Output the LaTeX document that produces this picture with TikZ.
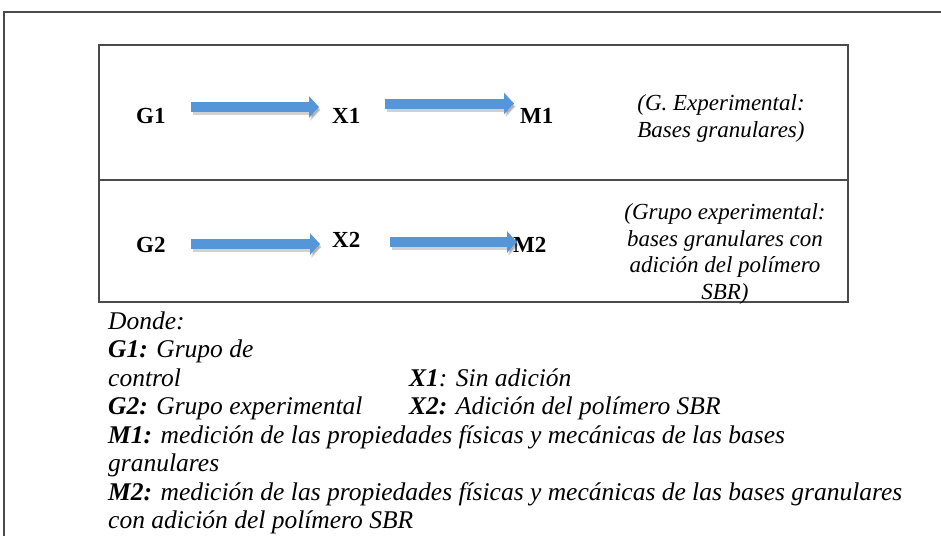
\documentclass[tikz,border=0pt]{standalone}
\usepackage{fontspec}
\setmainfont{Liberation Serif}[
  BoldFont={Liberation Serif Bold},
  ItalicFont={Liberation Serif Italic},
  BoldItalicFont={Liberation Serif Bold Italic}]
\usetikzlibrary{arrows.meta}
\definecolor{arrowblue}{HTML}{5596D9}
\definecolor{framegray}{HTML}{4A4A4A}
\tikzset{
  frameline/.style={draw=framegray, line width=1.3pt},
  lbl/.style={font=\fontsize{23}{27}\selectfont\bfseries, inner sep=0pt, anchor=base west},
  note/.style={font=\fontsize{23}{26.5}\selectfont\itshape, align=center, inner sep=0pt},
  legend/.style={font=\fontsize{25.5}{28}\selectfont\itshape, inner sep=0pt, anchor=base west},
  barrow/.style={draw=arrowblue, line width=10pt, line cap=butt, -{Triangle[length=10pt,width=21pt]}},
  bshadow/.style={draw=black, opacity=0.18, line width=10pt, line cap=butt, -{Triangle[length=10pt,width=21pt]}},
}
\begin{document}
\begin{tikzpicture}[x=1pt,y=-1pt]
\useasboundingbox (0,0) rectangle (941,535);
\fill[white] (0,0) rectangle (941,535);
% outer frame (open at right and bottom)
\draw[frameline] (4,540) -- (4,12) -- (945,12);
% inner box
\draw[frameline] (99,45) rectangle (848,302);
\draw[frameline] (99,180) -- (848,180);
% labels
\node[lbl] (G1) at (136,123) {G1};
\node[lbl] (X1) at (332,123) {X1};
\node[lbl] (M1) at (520,123) {M1};
\node[lbl] (G2) at (136,252) {G2};
\node[lbl] (X2) at (332,247) {X2};
\node[lbl] (M2) at (513,252) {M2};
% arrow ends
\coordinate (a1s) at (191,107); \coordinate (a1e) at (319,107);
\coordinate (a2s) at (385,103.5); \coordinate (a2e) at (514,103.5);
\coordinate (a3s) at (191,244); \coordinate (a3e) at (320,244);
\coordinate (a4s) at (390,242); \coordinate (a4e) at (517,242);
\foreach \s/\e in {a1s/a1e,a2s/a2e,a3s/a3e,a4s/a4e}{
  \draw[bshadow] ([shift={(1.5,3)}]\s) -- ([shift={(1.5,3)}]\e);
  \draw[barrow] (\s) -- (\e);
}
% notes
\node[note, font=\fontsize{23}{27}\selectfont\itshape] (n1) at (721,118) {(G. Experimental:\\Bases granulares)};
\node[note] (n2) at (725,254) {(Grupo experimental:\\bases granulares con\\adición del polímero\\SBR)};
% legend
\node[legend] (d0) at (108,329) {Donde:};
\node[legend] (d1) at (108,357.5) {{\bfseries G1:} Grupo de};
\node[legend] (d2) at (108,386) {control};
\node[legend] (d3) at (409,386) {{\bfseries X1}: Sin adición};
\node[legend] (d4) at (108,414.5) {{\bfseries G2:} Grupo experimental};
\node[legend] (d5) at (409,414.5) {{\bfseries X2:} Adición del polímero SBR};
\node[legend] (d6) at (108,443) {{\bfseries M1:} medición de las propiedades físicas y mecánicas de las bases};
\node[legend] (d7) at (108,471.5) {granulares};
\node[legend] (d8) at (108,500) {{\bfseries M2:} medición de las propiedades físicas y mecánicas de las bases granulares};
\node[legend] (d9) at (108,528.5) {con adición del polímero SBR};
\end{tikzpicture}
\end{document}
